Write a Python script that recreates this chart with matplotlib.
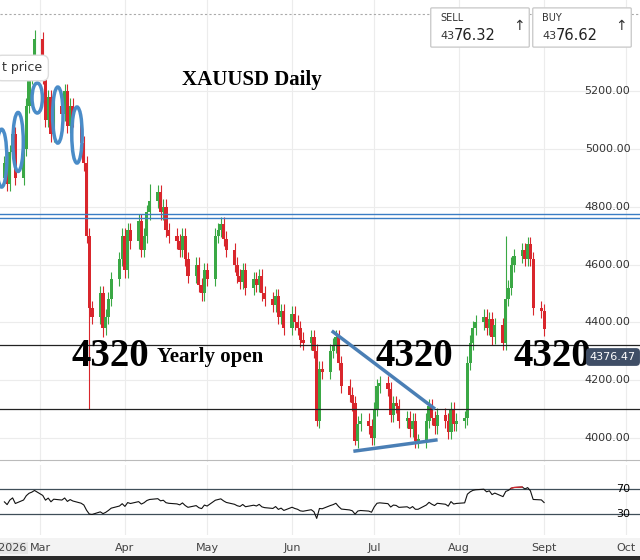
import matplotlib
matplotlib.use("Agg")
import matplotlib.pyplot as plt
import matplotlib.dates as mdates
from matplotlib.patches import Ellipse, FancyBboxPatch
import numpy as np
import pandas as pd

closes = [4950, 4880, 4990, 5050, 4900,
          5000, 5150, 5250, 5300, 5380,
          5250, 5100, 5180, 5050, 5150,
          5120, 5200, 5080, 5150, 5100,
          5020, 4950, 4700, 4450, 4420,
          4500, 4380, 4420, 4480, 4550,
          4620, 4700, 4580, 4720, 4680,
          4750, 4650, 4700, 4780, 4820,
          4850, 4780, 4800, 4720, 4700,
          4680, 4650, 4700, 4620, 4560,
          4600, 4530, 4500, 4580, 4550,
          4700, 4720, 4740, 4690, 4650,
          4600, 4560, 4540, 4580, 4520,
          4550, 4530, 4560, 4500, 4480,
          4460, 4490, 4420, 4440, 4380,
          4430, 4400, 4380, 4340, 4330,
          4350, 4300, 4060, 4240, 4230,
          4300, 4320, 4350, 4260, 4180,
          4150, 4120, 3990, 4050, 4060,
          4040, 4000, 4100, 4180, 4190,
          4170, 4080, 4120, 4110, 4060,
          4070, 4030, 4060, 3990, 3990,
          4060, 4110, 4070, 4040, 4080,
          4060, 4020, 4100, 4050, 4060,
          4070, 4260, 4330, 4380, 4400,
          4420, 4380, 4410, 4350, 4390,
          4330, 4480, 4520, 4600, 4630,
          4650, 4620, 4670, 4620, 4450,
          4440, 4376.47]
first_open = 4900
wick_extremes = {9: (5410, None), 23: (None, 4100), 26: (None, 4350), 39: (4880, None),
                 82: (None, 4040), 92: (None, 3975), 128: (None, 4320), 131: (4700, None)}
month_labels = ["Feb 2026", "Mar", "Apr", "May", "Jun", "Jul", "Aug", "Sept", "Oct"]
month_dates = ["2026-02-01", "2026-03-01", "2026-04-01", "2026-05-01", "2026-06-01",
               "2026-07-01", "2026-08-01", "2026-09-01", "2026-10-01"]
price_ticks = [4000, 4200, 4400, 4600, 4800, 5000, 5200]
circles = [("2026-02-15", 4968, 200), ("2026-02-21", 5024, 204), ("2026-02-28", 5176, 104),
           ("2026-03-07 12:00", 5117, 194), ("2026-03-14 12:00", 5048, 194)]

dates = pd.bdate_range("2026-02-16", periods=len(closes))
x = mdates.date2num(dates)
c = np.array(closes, float)
o = np.concatenate([[first_open], c[:-1]])
hi = np.maximum(o, c) + 25
lo = np.minimum(o, c) - 25
for i, (h, l) in wick_extremes.items():
    if h: hi[i] = h
    if l: lo[i] = l

W, H = 640, 560
fig = plt.figure(figsize=(6.4, 5.6), dpi=100)
d = mdates.datestr2num
xl = (d("2026-02-14") + 0.4, d("2026-10-06"))

def px(y0, y1):
    return [0, 1 - y1 / H, 1, (y1 - y0) / H]

ax = fig.add_axes(px(0, 462))
ax.set_xlim(*xl)
ax.set_ylim(3917, 5515)
for s in ax.spines.values(): s.set_visible(False)
ax.set_xticks([]); ax.set_yticks([])
md = [d(m) for m in month_dates]
for m in md:
    ax.axvline(m, color="#ececec", lw=0.8, zorder=0)
for p in price_ticks:
    ax.axhline(p, color="#ececec", lw=0.8, zorder=0)
    ax.text(0.985, p, f"{p:.2f}", transform=ax.get_yaxis_transform(), ha="right",
            va="center", fontsize=8, color="#333")
ax.axhline(3925, color="#bbbbbb", lw=0.8)
ax.axhline(5466, color="#aaaaaa", lw=0.8, ls=(0, (2, 2)))
col = np.where(c >= o, "#3aa845", "#d9262c")
ax.vlines(x, lo, hi, colors=col, lw=0.8, zorder=2)
ax.bar(x, np.maximum(np.abs(c - o), 5), bottom=np.minimum(o, c), width=1.15, color=col, zorder=3)

ax.axhline(4320, color="#222", lw=0.9, zorder=4)
ax.axhline(4100, color="#222", lw=0.9, zorder=4)
ax.axhline(4775, color="#3b7dc4", lw=1.0, zorder=4)
ax.axhline(4761, color="#3b7dc4", lw=1.0, zorder=4)
ax.plot([d("2026-06-16"), d("2026-07-22 16:00")], [4367, 4104], color="#4a7fb5", lw=2.5, zorder=5)
ax.plot([d("2026-06-24"), d("2026-07-23 12:00")], [3955, 3993], color="#4a7fb5", lw=2.5, zorder=5)
for dd, yy, hh in circles:
    ax.add_patch(Ellipse((d(dd), yy), 3.8, hh, fill=False, ec="#4a8cc8", lw=2.5, zorder=6))

ax.text(252, H - 80, "XAUUSD Daily", transform=None, fontsize=15, fontweight="bold",
        family="Liberation Serif", ha="center", va="center")
for xx, t, fs in [(110, "4320", 28), (210, "Yearly open", 15), (414, "4320", 28), (552, "4320", 28)]:
    fig.text(xx / W, 1 - 357 / H, t, fontsize=fs, fontweight="bold", family="Liberation Serif",
             ha="center", va="center")
fig.text(613 / W, 1 - 357 / H, "4376.47", fontsize=8, color="white", ha="center", va="center",
         bbox=dict(boxstyle="round,pad=0.35", fc="#3f4e66", ec="none"))
fig.text(2 / W, 1 - 68 / H, "t price", fontsize=9, color="#333", ha="left", va="center",
         bbox=dict(boxstyle="round,pad=0.5", fc="white", ec="#dddddd"))
for bx, lab, val in [(432, "SELL", "76.32"), (534, "BUY", "76.62")]:
    fig.patches.append(FancyBboxPatch((bx / W, 1 - 46 / H), 96 / W, 37 / H, boxstyle="round,pad=0.002",
                                      transform=fig.transFigure, fc="white", ec="#cccccc", lw=1))
    fig.text((bx + 8) / W, 1 - 18 / H, lab, fontsize=7, color="#333", va="center")
    fig.text((bx + 8) / W, 1 - 36 / H, "43", fontsize=8, color="#333", va="center")
    fig.text((bx + 22) / W, 1 - 35 / H, val, fontsize=10.5, color="#222", va="center")
    fig.text((bx + 87) / W, 1 - 26 / H, "↑", fontsize=10, color="#333", ha="center", va="center")

# RSI (Wilder, seeded neutral)
delta = np.diff(c, prepend=first_open)
ag = np.empty(len(c)); al = np.empty(len(c))
pg, pl = 25.0, 30.0
for i, dv in enumerate(delta):
    pg = (pg * 13 + max(dv, 0)) / 14
    pl = (pl * 13 + max(-dv, 0)) / 14
    ag[i], al[i] = pg, pl
rsi = 100 - 100 / (1 + ag / al)
ax2 = fig.add_axes(px(465, 535))
ax2.set_xlim(*xl); ax2.set_ylim(-4, 108)
for s in ax2.spines.values(): s.set_visible(False)
ax2.set_xticks([]); ax2.set_yticks([])
for m in md:
    ax2.axvline(m, color="#ececec", lw=0.8, zorder=0)
ax2.axhline(70, color="#3f4e58", lw=0.9); ax2.axhline(30, color="#3f4e58", lw=0.9)
ax2.plot(x, rsi, color="#111", lw=0.8)
ax2.plot(x, np.where(rsi > 70, rsi, np.nan), color="#d9262c", lw=0.9)
ax2.text(0.985, 70, "70", transform=ax2.get_yaxis_transform(), ha="right", va="center", fontsize=8)
ax2.text(0.985, 30, "30", transform=ax2.get_yaxis_transform(), ha="right", va="center", fontsize=8)

ax3 = fig.add_axes(px(538, 556), facecolor="#f3f3f3")
ax3.set_xlim(*xl); ax3.set_ylim(0, 1)
for s in ax3.spines.values(): s.set_visible(False)
ax3.set_xticks([]); ax3.set_yticks([])
for m, lab in zip(md, month_labels):
    if lab == "Feb 2026":
        ax3.text(d("2026-02-24"), 0.45, lab, ha="right", va="center", fontsize=8, color="#444",
                 bbox=dict(fc="#e6e6e6", ec="none", pad=1))
    else:
        ax3.text(m, 0.45, lab, ha="center", va="center", fontsize=8, color="#444")
ax4 = fig.add_axes(px(556, 560))
ax4.axis("off"); ax4.add_patch(plt.Rectangle((0, 0), 1, 1, transform=ax4.transAxes, color="#2a2a2a"))
fig.savefig("out.png", dpi=100, facecolor="white")
